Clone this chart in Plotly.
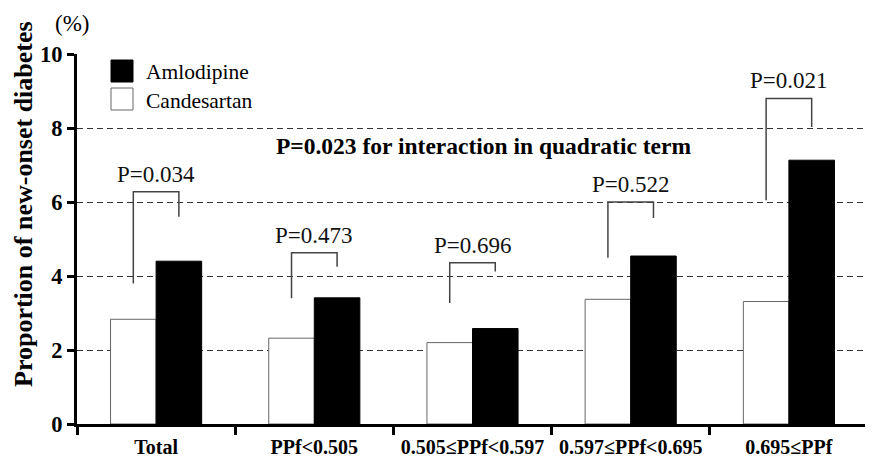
import plotly.graph_objects as go

categories = ["Total", "PPf<0.505", "0.505≤PPf<0.597", "0.597≤PPf<0.695", "0.695≤PPf"]
candesartan = [2.83, 2.32, 2.20, 3.37, 3.31]
amlodipine = [4.40, 3.41, 2.58, 4.54, 7.13]
p_labels = ["P=0.034", "P=0.473", "P=0.696", "P=0.522", "P=0.021"]
bracket_top = [6.28, 4.63, 4.36, 6.0, 8.8]
bracket_left_bottom = [3.8, 3.4, 3.27, 4.49, 6.05]
bracket_right_bottom = [5.6, 4.25, 4.12, 5.57, 8.03]
y_ticks = [0, 2, 4, 6, 8, 10]

FONT = "Liberation Serif"
OFF = 8  # page body margin
W, H = 873 - OFF, 462 - OFF
L, T = 77 - OFF, 54 - OFF
R = W - (868 - OFF)
B = H - (424 - OFF)
PW, PH = W - L - R, H - T - B


def px2x(px):
    return (px - OFF - L) / PW


def py2y(py):
    return (H - B - (py - OFF)) / PH


bargap = 0.424
half = (1 - bargap) / 4  # offset of each bar center from category center

fig = go.Figure()
fig.add_trace(go.Bar(x=categories, y=candesartan, name="Candesartan",
                     marker=dict(color="white", line=dict(color="#666666", width=1)),
                     showlegend=False))
fig.add_trace(go.Bar(x=categories, y=amlodipine, name="Amlodipine",
                     marker=dict(color="black", line=dict(color="black", width=1)),
                     showlegend=False))

# brackets
for i in range(len(categories)):
    xl, xr = i - half, i + half
    fig.add_trace(go.Scatter(
        x=[xl, xl, xr, xr],
        y=[bracket_left_bottom[i], bracket_top[i], bracket_top[i], bracket_right_bottom[i]],
        mode="lines", line=dict(color="#444444", width=1.5),
        xaxis="x2", yaxis="y", showlegend=False, hoverinfo="skip"))
    fig.add_annotation(x=i, y=bracket_top[i] + 0.08, xref="x2", yref="y",
                       text=p_labels[i], showarrow=False, yanchor="bottom",
                       xanchor="center",
                       font=dict(family=FONT, size=23, color="#111111"))

fig.add_annotation(x=px2x(483), y=py2y(146), xref="paper", yref="paper",
                   text="<b>P=0.023 for interaction in quadratic term</b>",
                   showarrow=False, xanchor="center", yanchor="middle",
                   font=dict(family=FONT, size=23.5, color="black"))

# custom legend
fig.add_shape(type="rect", xref="paper", yref="paper",
              x0=px2x(111), x1=px2x(133), y0=py2y(82), y1=py2y(60),
              fillcolor="black", line=dict(color="black", width=1))
fig.add_shape(type="rect", xref="paper", yref="paper",
              x0=px2x(111), x1=px2x(133), y0=py2y(110), y1=py2y(88),
              fillcolor="white", line=dict(color="#666666", width=1))
fig.add_annotation(x=px2x(144), y=py2y(72), xref="paper", yref="paper",
                   text="Amlodipine", showarrow=False, xanchor="left", yanchor="middle",
                   font=dict(family=FONT, size=21.5, color="black"))
fig.add_annotation(x=px2x(144), y=py2y(101), xref="paper", yref="paper",
                   text="Candesartan", showarrow=False, xanchor="left", yanchor="middle",
                   font=dict(family=FONT, size=21.5, color="black"))

fig.add_annotation(x=px2x(72), y=py2y(24), xref="paper", yref="paper",
                   text="(%)", showarrow=False, xanchor="center", yanchor="middle",
                   font=dict(family=FONT, size=23, color="black"))
fig.add_annotation(x=px2x(23), y=py2y(204), xref="paper", yref="paper",
                   text="<b>Proportion of new-onset diabetes</b>", textangle=-90,
                   showarrow=False, xanchor="center", yanchor="middle",
                   font=dict(family=FONT, size=26, color="black"))

fig.update_layout(
    width=W, height=H,
    margin=dict(l=L, r=R, t=T, b=B),
    paper_bgcolor="white", plot_bgcolor="white",
    barmode="group", bargap=bargap, bargroupgap=0,
    xaxis=dict(type="category", range=[-0.5, 4.5], showline=True, linewidth=3,
               linecolor="black", ticks="outside", tickson="boundaries",
               ticklen=8, tickwidth=3, tickcolor="black", showgrid=False,
               ticklabelstandoff=3,
               tickfont=dict(family=FONT, size=20, color="black"),
               tickprefix="<b>", ticksuffix="</b>", zeroline=False),
    xaxis2=dict(overlaying="x", range=[-0.5, 4.5], visible=False),
    yaxis=dict(range=[0, 10], tickvals=y_ticks,
               ticktext=[f"<b>{v}</b>" for v in y_ticks],
               showline=True, linewidth=3, linecolor="black",
               ticks="outside", ticklen=7, tickwidth=3, tickcolor="black",
               showgrid=True, gridcolor="#333333", gridwidth=1, griddash="6px,4px",
               zeroline=False,
               tickfont=dict(family=FONT, size=22.5, color="black")),
)

fig.write_html("out.html")
